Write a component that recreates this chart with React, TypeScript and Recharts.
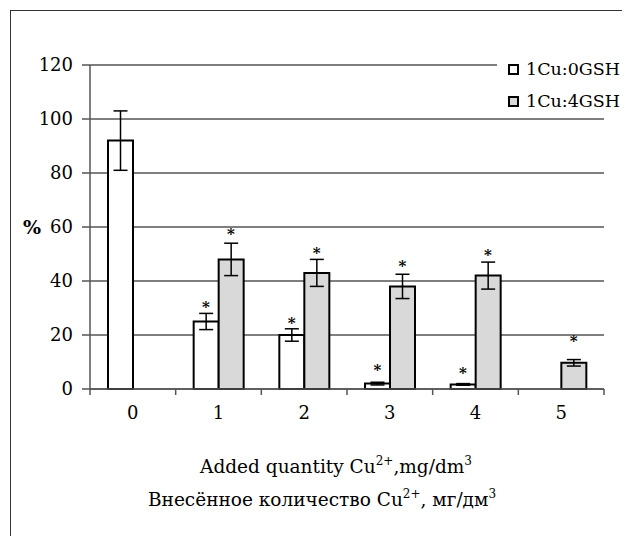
import React from "react";
import {
  ComposedChart,
  Bar,
  ErrorBar,
  Scatter,
  XAxis,
  YAxis,
  CartesianGrid,
  Legend,
} from "recharts";

// values
const categories = ["0", "1", "2", "3", "4", "5"];
const cu0gsh = [92, 25, 20, 2, 1.7, 0];
const cu0gshErr = [11, 3, 2.3, 0.5, 0.3, 0];
const cu4gsh = [null, 48, 43, 38, 42, 9.7];
const cu4gshErr = [null, 6, 5, 4.5, 5, 1.2];
// level of the significance asterisks
const cu0gshStar = [null, 32, 26, 8.6, 7.4, null];
const cu4gshStar = [null, 59, 52, 47, 51, 19.4];
const yTicks = [0, 20, 40, 60, 80, 100, 120];

const data = categories.map((cat, i) => ({
  cat,
  a: cu0gsh[i],
  aErr: cu0gshErr[i],
  aStar: cu0gshStar[i],
  b: cu4gsh[i],
  bErr: cu4gshErr[i],
  bStar: cu4gshStar[i],
}));

const FONT = "'DejaVu Serif', serif";
const GRID = "#555";
const W = 615;
const H = 525;
const M = { top: 54, right: 22, bottom: 87, left: 6 };
const PLOT_W = W - M.left - M.right - 73;
const AXIS_Y = H - M.bottom - 60;
const BAR = 25;

const XTick = (props: any) => {
  const { x, payload, index } = props;
  const bw = PLOT_W / categories.length;
  return (
    <g>
      <text x={x} y={AXIS_Y + 17} dy="0.71em" textAnchor="middle" fontFamily={FONT} fontSize={18} fill="#000">
        {payload.value}
      </text>
      <line x1={x - bw / 2} y1={AXIS_Y} x2={x - bw / 2} y2={AXIS_Y + 6} stroke={GRID} strokeWidth={1.5} />
      {index === categories.length - 1 && (
        <line x1={x + bw / 2} y1={AXIS_Y} x2={x + bw / 2} y2={AXIS_Y + 6} stroke={GRID} strokeWidth={1.5} />
      )}
    </g>
  );
};

const XTitle = (props: any) => {
  const vb = props.viewBox;
  const cx = vb.x + vb.width / 2;
  return (
    <g fontFamily={FONT} fontSize={18.5} fill="#000">
      <text x={cx - 11} y={vb.y + 84} textAnchor="middle">
        Added quantity Cu<tspan dy={-8} fontSize={12}>2+</tspan>
        <tspan dy={8}>,mg/dm</tspan>
        <tspan dy={-8} fontSize={12}>3</tspan>
      </text>
      <text x={cx - 25} y={vb.y + 117} textAnchor="middle">
        Внесённое количество Cu<tspan dy={-8} fontSize={12}>2+</tspan>
        <tspan dy={8}>, мг/дм</tspan>
        <tspan dy={-8} fontSize={12}>3</tspan>
      </text>
    </g>
  );
};

const YTitle = (props: any) => {
  const vb = props.viewBox;
  return (
    <text x={vb.x + 6} y={vb.y + vb.height / 2} dy="0.355em" fontFamily={FONT} fontSize={19} fontWeight="bold" fill="#000">
      %
    </text>
  );
};

const star = (shift: number) => (props: any) => {
  const { cx, cy } = props;
  if (cx == null || cy == null || isNaN(cy)) return <g />;
  return (
    <text x={cx + shift} y={cy + 9} textAnchor="middle" fontFamily={FONT} fontSize={15} fontWeight="bold" fill="#000">
      *
    </text>
  );
};

const LegendBox = (props: any) => {
  const items = (props.payload || []).filter((p: any) => p.type !== "none");
  return (
    <div style={{ background: "#fff", fontFamily: FONT, fontSize: 17.5, color: "#000", paddingLeft: 11 }}>
      {items.map((p: any) => (
        <div key={p.value} style={{ height: 32, display: "flex", alignItems: "center", whiteSpace: "nowrap" }}>
          <span
            style={{
              display: "inline-block",
              width: 11,
              height: 11,
              boxSizing: "border-box",
              border: "2px solid #000",
              background: p.color,
              marginRight: 7,
            }}
          />
          {p.value}
        </div>
      ))}
    </div>
  );
};

export default function App() {
  return (
    <div
      style={{
        marginLeft: 2,
        marginTop: 2,
        width: W,
        height: H,
        borderTop: "1px solid #333",
        borderLeft: "1px solid #333",
      }}
    >
      <ComposedChart width={W} height={H} data={data} margin={M} barGap={0}>
        <CartesianGrid vertical={false} stroke={GRID} strokeWidth={1.5} />
        <XAxis
          dataKey="cat"
          height={60}
          tickLine={false}
          axisLine={{ stroke: GRID, strokeWidth: 1.5 }}
          tick={<XTick />}
          interval={0}
          label={<XTitle />}
        />
        <YAxis
          width={73}
          domain={[0, 120]}
          ticks={yTicks}
          tickSize={8}
          tickMargin={9}
          axisLine={{ stroke: GRID, strokeWidth: 1.5 }}
          tickLine={{ stroke: GRID, strokeWidth: 1.5 }}
          tick={{ fontFamily: FONT, fontSize: 18, fill: "#000" }}
          label={<YTitle />}
        />
        <Legend
          layout="vertical"
          align="center"
          verticalAlign="middle"
          content={<LegendBox />}
          wrapperStyle={{ left: 486, top: 42, width: 130, height: 64 }}
        />
        <Bar dataKey="a" name="1Cu:0GSH" fill="#fff" stroke="#000" strokeWidth={2} barSize={BAR} isAnimationActive={false}>
          <ErrorBar dataKey="aErr" width={7} stroke="#000" strokeWidth={1.5} />
        </Bar>
        <Bar dataKey="b" name="1Cu:4GSH" fill="#d9d9d9" stroke="#000" strokeWidth={2} barSize={BAR} isAnimationActive={false}>
          <ErrorBar dataKey="bErr" width={7} stroke="#000" strokeWidth={1.5} />
        </Bar>
        <Scatter dataKey="aStar" legendType="none" shape={star(-BAR / 2)} isAnimationActive={false} />
        <Scatter dataKey="bStar" legendType="none" shape={star(BAR / 2)} isAnimationActive={false} />
      </ComposedChart>
    </div>
  );
}
